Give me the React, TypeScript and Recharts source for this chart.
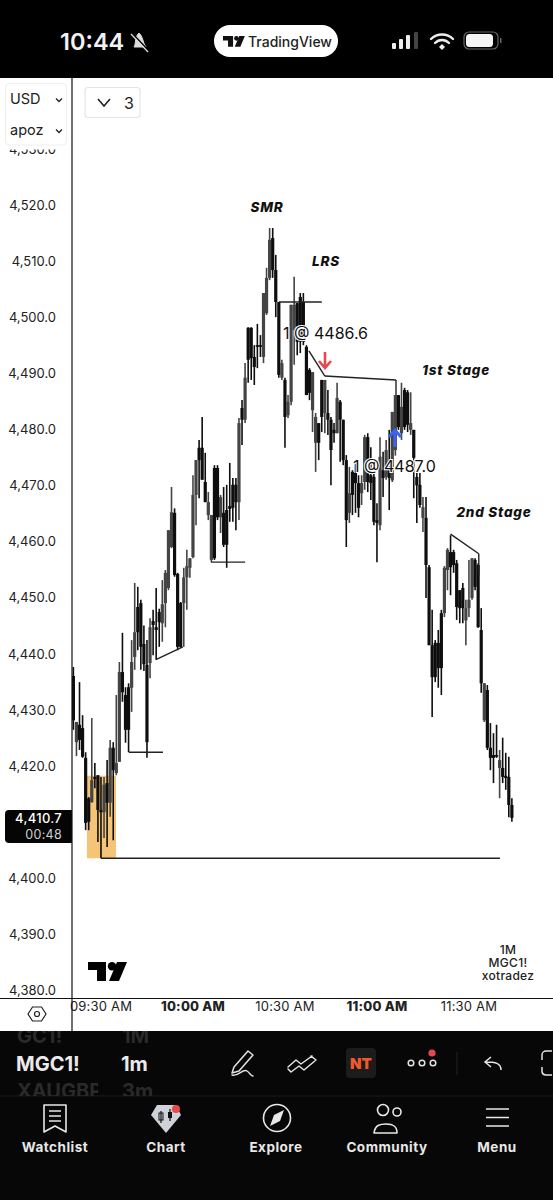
import React from "react";
import { ComposedChart, Bar, XAxis, YAxis, ReferenceLine, ReferenceArea } from "recharts";

const firstMinute = 561;
const opens = [4436.0,4424.2,4427.3,4426.7,4421.4,4414.2,4413.5,4418.0,4418.3,4412.1,4411.7,4416.9,4413.4,4423.2,4418.7,4420.7,4436.7,4432.6,4434.0,4433.9,4439.4,4448.3,4449.0,4441.7,4438.0,4438.3,4445.8,4444.7,4447.4,4445.4,4449.0,4451.7,4459.0,4465.1,4454.2,4449.0,4449.0,4453.6,4455.3,4457.2,4468.3,4476.7,4476.7,4470.6,4464.7,4456.7,4473.1,4473.1,4464.3,4465.1,4465.6,4466.3,4470.1,4470.1,4467.0,4483.8,4481.7,4498.1,4498.1,4492.9,4495.0,4495.0,4492.9,4500.7,4507.0,4514.1,4508.4,4502.7,4489.2,4488.8,4482.5,4484.9,4497.7,4502.5,4503.6,4502.7,4494.7,4490.6,4483.4,4477.6,4481.1,4488.8,4482.9,4482.9,4481.7,4479.9,4479.3,4484.9,4481.7,4474.5,4465.1,4472.4,4472.2,4470.4,4468.6,4470.6,4478.6,4471.8,4471.5,4463.8,4462.9,4472.7,4471.5,4472.7,4470.9,4476.3,4486.1,4479.3,4487.0,4486.6,4479.9,4479.9,4471.5,4470.1,4464.2,4464.2,4455.4,4441.5,4441.9,4441.9,4447.2,4447.2,4454.9,4458.1,4458.1,4456.1,4451.3,4451.7,4445.9,4448.1,4449.9,4456.7,4455.8,4444.2,4428.1,4433.5,4423.2,4421.9,4421.9,4419.6,4419.6,4418.2,4418.0,4413.0];
const closes = [4428.1,4427.8,4424.6,4421.6,4409.8,4410.0,4417.4,4417.6,4412.1,4411.7,4416.6,4413.4,4423.2,4419.2,4420.5,4436.7,4433.1,4426.4,4426.4,4438.5,4443.8,4443.8,4441.2,4438.1,4424.2,4444.7,4445.1,4444.2,4445.6,4448.8,4454.4,4462.0,4465.2,4454.0,4441.2,4441.2,4453.6,4455.6,4457.0,4468.3,4474.5,4474.5,4471.0,4467.0,4467.0,4464.7,4457.0,4464.3,4467.9,4459.4,4459.4,4465.8,4466.0,4467.0,4481.1,4481.7,4489.2,4492.4,4492.7,4491.1,4494.7,4494.7,4504.3,4507.0,4513.8,4508.4,4502.7,4489.7,4491.8,4482.2,4484.9,4502.2,4502.2,4495.6,4495.6,4495.6,4486.1,4486.5,4490.2,4482.2,4477.6,4482.2,4488.8,4481.7,4476.3,4479.3,4485.6,4481.7,4474.5,4463.8,4468.6,4468.3,4470.4,4466.0,4470.4,4478.6,4470.6,4470.4,4463.5,4463.3,4475.1,4471.3,4476.3,4471.3,4483.1,4486.1,4480.4,4484.0,4480.4,4480.8,4481.1,4474.9,4470.0,4466.5,4466.1,4455.8,4441.5,4435.8,4435.8,4437.4,4437.4,4455.3,4458.5,4455.4,4455.8,4448.3,4448.1,4448.1,4448.1,4449.6,4457.0,4451.9,4444.7,4434.7,4434.7,4423.2,4421.4,4421.4,4421.6,4421.0,4418.0,4417.8,4413.0,4410.7];
const highs = [4437.6,4427.8,4434.9,4429.0,4422.4,4414.4,4428.5,4420.5,4418.3,4418.0,4418.0,4421.0,4424.6,4424.2,4432.6,4438.5,4443.7,4434.0,4434.7,4442.4,4452.6,4451.9,4449.6,4445.0,4442.4,4446.3,4447.8,4451.7,4448.0,4453.1,4454.9,4462.0,4469.7,4465.9,4454.4,4449.2,4455.3,4458.5,4457.0,4471.8,4474.5,4478.1,4482.2,4475.8,4468.8,4464.7,4473.6,4473.6,4468.3,4469.7,4470.1,4474.0,4471.3,4471.3,4482.0,4485.2,4491.8,4498.2,4498.2,4495.0,4498.8,4496.8,4504.3,4508.8,4515.9,4515.9,4511.1,4502.7,4492.4,4489.2,4486.1,4502.2,4507.2,4502.5,4504.3,4504.3,4495.0,4490.9,4490.2,4482.9,4481.1,4488.8,4488.8,4487.0,4482.2,4481.1,4488.3,4485.2,4481.7,4475.4,4473.3,4472.7,4474.5,4471.8,4471.8,4479.0,4479.3,4476.8,4472.7,4466.8,4478.6,4476.0,4478.1,4479.9,4483.1,4486.1,4486.1,4488.3,4487.4,4487.0,4486.6,4479.9,4472.2,4472.2,4467.9,4467.9,4455.8,4447.8,4442.4,4444.2,4447.8,4455.6,4458.8,4461.1,4458.5,4456.7,4451.3,4452.6,4449.6,4456.7,4457.0,4457.0,4456.1,4448.1,4434.7,4434.4,4427.6,4425.8,4427.3,4422.8,4425.0,4422.3,4421.6,4414.2];
const lows = [4426.4,4421.7,4422.8,4421.4,4408.5,4408.5,4413.4,4416.0,4406.4,4403.5,4407.1,4405.5,4410.9,4406.7,4418.3,4420.7,4431.4,4424.1,4422.4,4429.6,4437.1,4440.6,4437.1,4436.9,4421.4,4435.6,4439.7,4438.9,4441.2,4442.1,4444.7,4451.3,4458.8,4453.7,4440.6,4441.0,4441.2,4447.8,4453.5,4457.0,4462.9,4467.7,4471.0,4467.0,4463.8,4456.3,4456.7,4463.8,4461.5,4459.0,4455.3,4463.5,4463.5,4462.0,4463.8,4477.2,4481.1,4488.3,4488.8,4487.9,4490.9,4492.9,4491.8,4500.4,4506.6,4507.0,4500.0,4489.2,4488.8,4476.7,4482.0,4484.3,4491.5,4493.2,4493.6,4495.0,4486.1,4485.2,4479.5,4472.4,4474.5,4479.5,4479.3,4479.0,4470.0,4477.6,4479.3,4474.2,4473.6,4459.0,4463.3,4464.7,4465.1,4464.3,4466.5,4469.2,4468.8,4467.4,4462.9,4456.3,4462.0,4467.9,4471.0,4465.6,4470.6,4475.3,4479.9,4478.1,4479.9,4479.5,4479.0,4467.7,4463.3,4466.0,4461.7,4449.9,4441.5,4428.7,4434.9,4433.9,4432.6,4446.5,4451.3,4450.4,4454.4,4446.0,4445.4,4445.4,4441.5,4446.5,4449.6,4451.3,4444.6,4433.0,4427.8,4422.8,4419.2,4416.9,4421.4,4414.2,4416.9,4415.7,4410.8,4410.0];

const candles = opens.map((open, i) => ({ minute: firstMinute + i, open, close: closes[i], high: highs[i], low: lows[i] }));

const priceTicks = [4380,4390,4400,4420,4430,4440,4450,4460,4470,4480,4490,4500,4510,4520,4530];
const timeTicks = [570,600,630,660,690];
const timeLabels = ["09:30 AM","10:00 AM","10:30 AM","11:00 AM","11:30 AM"];
const boldTimes = ["10:00 AM","11:00 AM"];

const horizontalLevels = [
  { from: 570, to: 700.1, price: 4403.5 },
  { from: 579.1, to: 590.2, price: 4422.4 },
  { from: 605.9, to: 617, price: 4456.3 },
  { from: 628, to: 642, price: 4502.7 },
];
const drawnPaths = [
  [[587.9,4438.9],[596.7,4441.2]],
  [[637.8,4494.0],[643,4489.5]],
  [[643,4489.5],[666.2,4488.8]],
  [[666.2,4488.8],[666.2,4486.1]],
  [[684,4461.3],[693.2,4457.8]],
  [[693.2,4457.8],[693.2,4454.0]],
];

const FONT = "Inter, 'Liberation Sans', sans-serif";

function Candle(props: any) {
  const { x, y, width, height, payload } = props;
  if (height == null) return null;
  const cx = x + width / 2;
  const range = payload.high - payload.low || 1;
  const py = (p: number) => y + ((payload.high - p) / range) * height;
  const top = py(Math.max(payload.open, payload.close));
  const bot = py(Math.min(payload.open, payload.close));
  const up = payload.close >= payload.open;
  const color = up ? "#444" : "#0e0e0e";
  return (
    <g>
      <line x1={cx} x2={cx} y1={y} y2={y + height} stroke={color} strokeWidth={1.6} />
      <rect x={cx - 1.6} y={top} width={3.2} height={Math.max(bot - top, 1.4)} fill={color} />
    </g>
  );
}

function PriceTick(props: any) {
  const { x, y, payload } = props;
  const s = payload.value.toLocaleString("en-US", { minimumFractionDigits: 1, maximumFractionDigits: 1 });
  return <text x={x} y={y} dy={5} textAnchor="end" fontFamily={FONT} fontSize={13} fill="#222">{s}</text>;
}

function TimeTick(props: any) {
  const { x, y, payload } = props;
  const label = timeLabels[timeTicks.indexOf(payload.value)];
  const bold = boldTimes.includes(label);
  return <text x={x} y={y} dy={5} textAnchor="middle" fontFamily={FONT} fontSize={13} fontWeight={bold ? 800 : 400} letterSpacing={0.2} fill="#222">{label}</text>;
}

function TvLogo({ x, y, s, fill }: any) {
  return (
    <g transform={`translate(${x} ${y}) scale(${s})`} fill={fill}>
      <path d="M0 0H18V19H9V8H0Z" />
      <circle cx="24" cy="4.2" r="4.2" />
      <path d="M29 0H39L31 19H21Z" />
    </g>
  );
}

function Chrome() {
  const navLabels = [["Watchlist",55],["Chart",166],["Explore",276],["Community",387],["Menu",497]] as [string, number][];
  const white = "#e8e8e8";
  return (
    <svg width={553} height={1200} style={{ position: "absolute", left: 0, top: 0, pointerEvents: "none" }} fontFamily={FONT}>
      <defs>
        <clipPath id="wheelLeft"><rect x={0} y={1031} width={98} height={65} /></clipPath>
        <clipPath id="wheelRight"><rect x={110} y={1031} width={60} height={65} /></clipPath>
      </defs>
      {/* chart annotations */}
      <g fontWeight={800} fontStyle="italic" fontSize={13.5} fill="#111" textAnchor="middle" letterSpacing={0.8}>
        <text x={267} y={212}>SMR</text>
        <text x={326} y={266}>LRS</text>
        <text x={456} y={375}>1st Stage</text>
        <text x={494} y={517}>2nd Stage</text>
      </g>
      <g fontSize={16} fill="#111" stroke="#fff" strokeWidth={2} style={{ paintOrder: "stroke" }}>
        <text x={283} y={339}>1 @ 4486.6</text>
        <text x={353} y={472}>1 @ 4487.0</text>
      </g>
      <path d="M325 352V367M319 361L325 368L331 361" fill="none" stroke="#e5484d" strokeWidth={2.6} />
      <path d="M395 447V431M389 437L395 430L401 437" fill="none" stroke="#3a64ee" strokeWidth={3} />
      <g fontSize={12} fontWeight={500} fill="#222" textAnchor="middle" letterSpacing={0.3}>
        <text x={508} y={954}>1M</text>
        <text x={508} y={966.5}>MGC1!</text>
        <text x={508} y={980}>xotradez</text>
      </g>
      <TvLogo x={88} y={962} s={1} fill="#000" />

      {/* price label */}
      <path d="M9 810H72V843H9A4 4 0 0 1 5 839V814A4 4 0 0 1 9 810Z" fill="#050505" />
      <text x={62} y={823} textAnchor="end" fontSize={13} fontWeight={500} letterSpacing={0.3} fill="#fff">4,410.7</text>
      <text x={62} y={839} textAnchor="end" fontSize={12.5} fill="#cfcfcf" letterSpacing={0.3}>00:48</text>

      {/* status bar */}
      <rect x={0} y={0} width={553} height={78} fill="#000" />
      <text x={60} y={50} fontSize={23.5} fontWeight={600} fill="#f2f2f2">10:44</text>
      <g stroke="#ddd" fill="#ddd">
        <path d="M134 47C136 44 135 36 139 33C143 36 143 44 146 47Z" />
        <line x1={131} y1={32} x2={148} y2={50} strokeWidth={1.6} stroke="#000" />
        <line x1={131} y1={34} x2={148} y2={52} strokeWidth={1.3} />
      </g>
      <rect x={214} y={25} width={124} height={32} rx={16} fill="#fff" />
      <TvLogo x={223} y={36} s={0.56} fill="#111" />
      <text x={248} y={46.5} fontSize={14} fontWeight={500} fill="#222">TradingView</text>
      <g fill="#eee">
        <rect x={392} y={43} width={4} height={6} rx={1} />
        <rect x={399} y={39} width={4} height={10} rx={1} />
        <rect x={406} y={35} width={4} height={14} rx={1} />
        <rect x={414} y={32} width={4} height={17} rx={1} fill="#444" />
      </g>
      <g fill="none" stroke="#eee" strokeWidth={2.4} strokeLinecap="round">
        <path d="M431 39C437 33 447 33 453 39" />
        <path d="M435 43C439 39 445 39 449 43" />
      </g>
      <path d="M439 47L442 44L445 47L442 50Z" fill="#eee" />
      <rect x={464} y={32} width={34} height={17} rx={5} fill="none" stroke="#666" strokeWidth={1.2} />
      <rect x={466} y={34} width={27} height={13} rx={3.5} fill="#f5f5f5" />
      <rect x={500} y={38} width={1.5} height={5} fill="#666" />

      {/* axis lines */}
      <line x1={72} x2={72} y1={78} y2={1031} stroke="#111" strokeWidth={1.2} />
      <line x1={0} x2={553} y1={998.5} y2={998.5} stroke="#111" strokeWidth={1.2} />
      <path d="M28 1014L32.5 1007H41.5L46 1014L41.5 1021H32.5Z" fill="none" stroke="#222" strokeWidth={1.2} />
      <circle cx={37} cy={1014} r={2.5} fill="none" stroke="#222" strokeWidth={1.2} />

      {/* panels */}
      <rect x={4} y={145} width={64} height={4.5} fill="#fff" />
      <rect x={5.5} y={83.5} width={61} height={61.5} rx={4} fill="#fff" stroke="#eee" />
      <text x={10} y={104} fontSize={14.5} fill="#222">USD</text>
      <text x={10} y={135} fontSize={14.5} fill="#222">apoz</text>
      <path d="M56 98.5L59 101.5L62 98.5M56 129.5L59 132.5L62 129.5" fill="none" stroke="#222" strokeWidth={1.3} />
      <rect x={85} y={87.5} width={55} height={30} rx={3} fill="#fff" stroke="#e4e4e4" strokeWidth={1.2} />
      <path d="M98 99L104 106L110 99" fill="none" stroke="#222" strokeWidth={1.6} />
      <text x={129} y={109} textAnchor="middle" fontSize={16} fill="#222">3</text>

      {/* bottom bar */}
      <rect x={0} y={1031} width={553} height={169} fill="#070707" />
      <line x1={0} x2={553} y1={1096} y2={1096} stroke="#1f1f1f" />
      <g fontSize={20} fontWeight={700} fill="#2a2a2a">
        <g clipPath="url(#wheelLeft)">
          <text x={17} y={1043}>GC1!</text>
          <text x={17} y={1098}>XAUGBP</text>
        </g>
        <g clipPath="url(#wheelRight)">
          <text x={122} y={1043}>1M</text>
          <text x={122} y={1098}>3m</text>
        </g>
      </g>
      <text x={16} y={1071} fontSize={20} fontWeight={700} fill="#eaeaea">MGC1!</text>
      <text x={121} y={1071} fontSize={20} fontWeight={700} fill="#eaeaea">1m</text>

      <g fill="none" stroke="#e4e4e4" strokeWidth={1.5} strokeLinecap="round" strokeLinejoin="round">
        <path d="M234 1067L248 1051L253 1055L239 1071L232 1073Z" />
        <path d="M232 1075C238 1077 243 1068 247 1071C250 1073 251 1076 253 1076" />
        <path d="M288 1067L296 1060L301 1064L312 1056M288 1069L291 1072L299 1066L304 1070L316 1060L311 1056" />
      </g>
      <rect x={346} y={1048} width={30} height={30} rx={4} fill="#1c1c1c" />
      <text x={361} y={1069} textAnchor="middle" fontSize={15} fontWeight={900} fill="#f0592a">NT</text>
      <g fill="none" stroke="#e4e4e4" strokeWidth={1.5}>
        <circle cx={411} cy={1063} r={2.8} />
        <circle cx={422} cy={1063} r={2.8} />
        <circle cx={433} cy={1063} r={2.8} />
      </g>
      <circle cx={432} cy={1053} r={3.6} fill="#e5484d" />
      <line x1={457} x2={457} y1={1052} y2={1075} stroke="#222" />
      <path d="M501 1070C501 1063 495 1062 486 1062M491 1057L485 1062L491 1067" fill="none" stroke="#e4e4e4" strokeWidth={1.5} />
      <path d="M552 1051H546A4 4 0 0 0 542 1055V1060M542 1067V1072A4 4 0 0 0 546 1075H552" fill="none" stroke="#e4e4e4" strokeWidth={1.5} />

      {/* nav icons */}
      <g fill="none" stroke={white} strokeWidth={1.6} strokeLinejoin="round">
        <path d="M44 1105H66V1132L55 1126L44 1132Z" />
        <path d="M49 1111H61M49 1116H61M49 1121H61" />
        <circle cx={277} cy={1118} r={13.5} />
        <path d="M374 1133C375 1125 380 1124 386 1124C393 1124 397 1126 397 1133Z" />
        <circle cx={383} cy={1110} r={5.5} />
        <circle cx={397} cy={1112} r={4} />
        <path d="M486 1109H509M486 1117.5H509M486 1126H509" />
      </g>
      <path d="M157 1105H176L181 1115L166 1133L151 1115Z" fill="#d0d2da" />
      <path d="M161 1111V1123M170 1109V1121" stroke="#111" strokeWidth={1.2} />
      <rect x={159} y={1113} width={4} height={7} fill="none" stroke="#111" />
      <rect x={168} y={1112} width={4} height={6} fill="#111" />
      <circle cx={176} cy={1109} r={4} fill="#e5484d" />
      <path d="M284 1110L280 1121L270 1126L274 1115Z" fill={white} />
      {navLabels.map(([t, x]) => (
        <text key={t} x={x} y={1152} textAnchor="middle" fontSize={13.5} fontWeight={700} fill={white} letterSpacing={0.5}>{t}</text>
      ))}
    </svg>
  );
}

export default function App() {
  return (
    <div style={{ position: "absolute", left: 0, top: 0, width: 553, height: 1200, background: "#fff", overflow: "hidden" }}>
      <ComposedChart width={553} height={1200} data={candles} margin={{ top: 78, right: 0, bottom: 169, left: 0 }}>
        <XAxis dataKey="minute" type="number" domain={[560.54, 717.4]} ticks={timeTicks} allowDataOverflow height={33} axisLine={false} tickLine={false} tick={<TimeTick />} interval={0} />
        <YAxis type="number" domain={[4378.57, 4542.65]} ticks={priceTicks} allowDataOverflow width={72} axisLine={false} tickLine={false} tickMargin={10} tick={<PriceTick />} interval={0} />
        <ReferenceArea x1={565.4} x2={574.9} y1={4418.2} y2={4403.5} fill="#f5c477" fillOpacity={1} stroke="none" />
        <Bar dataKey={(d: any) => [d.low, d.high]} barSize={3} shape={<Candle />} isAnimationActive={false} />
        {horizontalLevels.map((l, i) => (
          <ReferenceLine key={i} segment={[{ x: l.from, y: l.price }, { x: l.to, y: l.price }]} stroke="#222" strokeWidth={1.4} />
        ))}
        {drawnPaths.map((p, i) => (
          <ReferenceLine key={"p" + i} segment={[{ x: p[0][0], y: p[0][1] }, { x: p[1][0], y: p[1][1] }]} stroke="#222" strokeWidth={1.4} />
        ))}
      </ComposedChart>
      <Chrome />
    </div>
  );
}
